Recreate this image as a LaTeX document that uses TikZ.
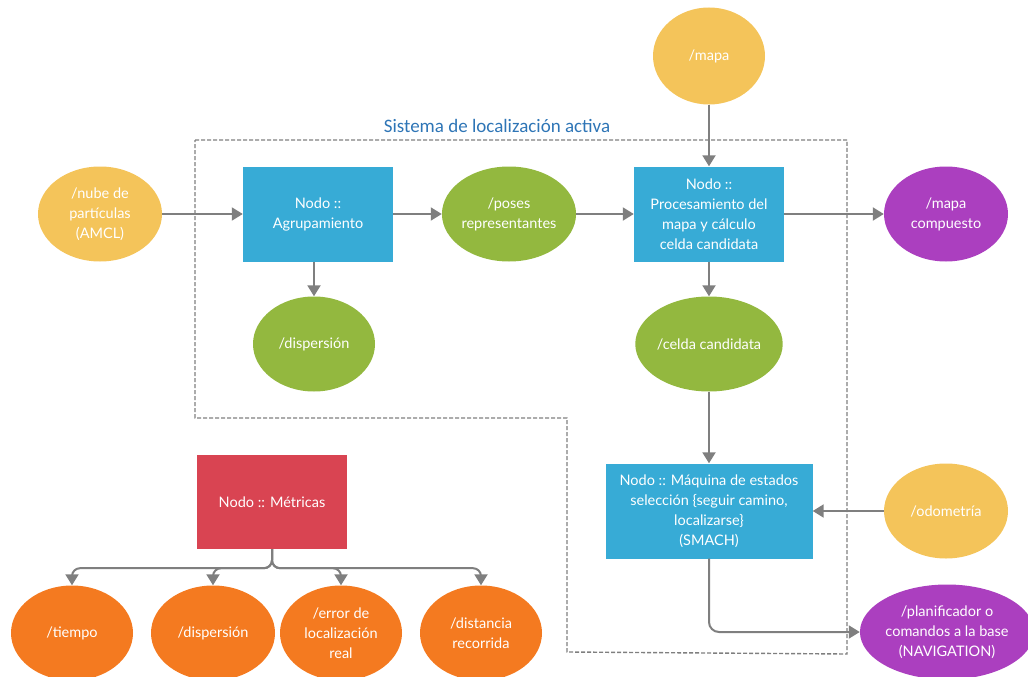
\documentclass[tikz,border=0pt]{standalone}
\usepackage{fontspec}
\setmainfont{Lato}
\newfontfamily\titlefont{Carlito}
\usetikzlibrary{shapes.geometric,arrows.meta}
\definecolor{boxblue}{RGB}{55,171,214}
\definecolor{topicyellow}{RGB}{244,196,90}
\definecolor{topicgreen}{RGB}{147,184,63}
\definecolor{topicpurple}{RGB}{171,63,191}
\definecolor{topicorange}{RGB}{244,122,32}
\definecolor{boxred}{RGB}{217,68,82}
\definecolor{linegray}{RGB}{127,127,127}
\definecolor{titleblue}{RGB}{46,117,182}
\begin{document}
\begin{tikzpicture}[x=1pt,y=-1pt,
  every node/.style={font=\fontsize{14.5}{20}\selectfont, text=white, align=center, inner sep=0pt},
  procbox/.style={rectangle, minimum width=150pt, minimum height=95pt},
  topic/.style={ellipse, minimum width=124pt, minimum height=95pt},
  arr/.style={draw=linegray, line width=2pt, -{Triangle[width=13pt,length=11pt]}},
  frame/.style={draw=linegray, line width=1.4pt, dash pattern=on 4pt off 2pt}
]
\useasboundingbox (0,0) rectangle (1028,677);

% system boundary
\draw[frame] (195,140) -- (847,140) -- (847,654) -- (567,652) -- (567,418) -- (195,418) -- cycle;
\node[text=titleblue, font=\titlefont\fontsize{19}{22}\selectfont] (title) at (497,126) {Sistema de localización activa};

% topics and nodes
\node[topic, fill=topicyellow] (nube) at (100,214) {/nube de\\partículas\\(AMCL)};
\node[procbox, fill=boxblue] (agr) at (318,214) {Nodo ::\\Agrupamiento};
\node[topic, fill=topicgreen] (poses) at (509,214) {/poses\\representantes};
\node[procbox, fill=boxblue] (proc) at (709,214) {Nodo ::\\Procesamiento del\\mapa y cálculo\\celda candidata};
\node[topic, fill=topicyellow, minimum width=112pt, minimum height=97pt] (mapa) at (709,56) {/mapa};
\node[topic, fill=topicpurple] (comp) at (946,214) {/mapa\\compuesto};
\node[topic, fill=topicgreen, minimum width=122pt] (disp) at (314,344) {/dispersión};
\node[topic, fill=topicgreen, minimum width=132pt] (celda) at (709,344) {/celda candidata};
\node[procbox, fill=boxblue, minimum width=207pt] (maq) at (709,511) {Nodo :: Máquina de estados\\selección \{seguir camino,\\localizarse\}\\(SMACH)};
\node[topic, fill=topicyellow] (odom) at (946,511) {/odometría};
\node[topic, fill=topicpurple, minimum width=162pt] (plan) at (947,632) {/planificador o\\comandos a la base\\(NAVIGATION)};

% metrics
\node[procbox, fill=boxred, minimum height=94pt] (met) at (272,502) {Nodo :: Métricas};
\node[topic, fill=topicorange, minimum width=122pt] (tiempo) at (72,633) {/tiempo};
\node[topic, fill=topicorange] (mdisp) at (213,633) {/dispersión};
\node[topic, fill=topicorange, minimum width=122pt] (err) at (341,633) {/error de\\localización\\real};
\node[topic, fill=topicorange, minimum width=122pt] (dist) at (481,633) {/distancia\\recorrida};

% data flow
\draw[arr] (nube) -- (agr);
\draw[arr] (agr) -- (poses);
\draw[arr] (poses) -- (proc);
\draw[arr] (proc) -- (comp);
\draw[arr] (mapa) -- (proc);
\draw[arr] (proc) -- (celda);
\draw[arr] (agr.south -| disp.north) -- (disp.north);
\draw[arr] (celda) -- (maq);
\draw[arr] (odom) -- (maq);
\draw[arr, rounded corners=10pt] (maq.south) |- (plan.west);

% metric outputs
\foreach \t in {tiempo,mdisp,err,dist}
  \draw[arr, rounded corners=8pt] (met.south) -- ++(0,19) -| (\t.north);
\end{tikzpicture}
\end{document}
